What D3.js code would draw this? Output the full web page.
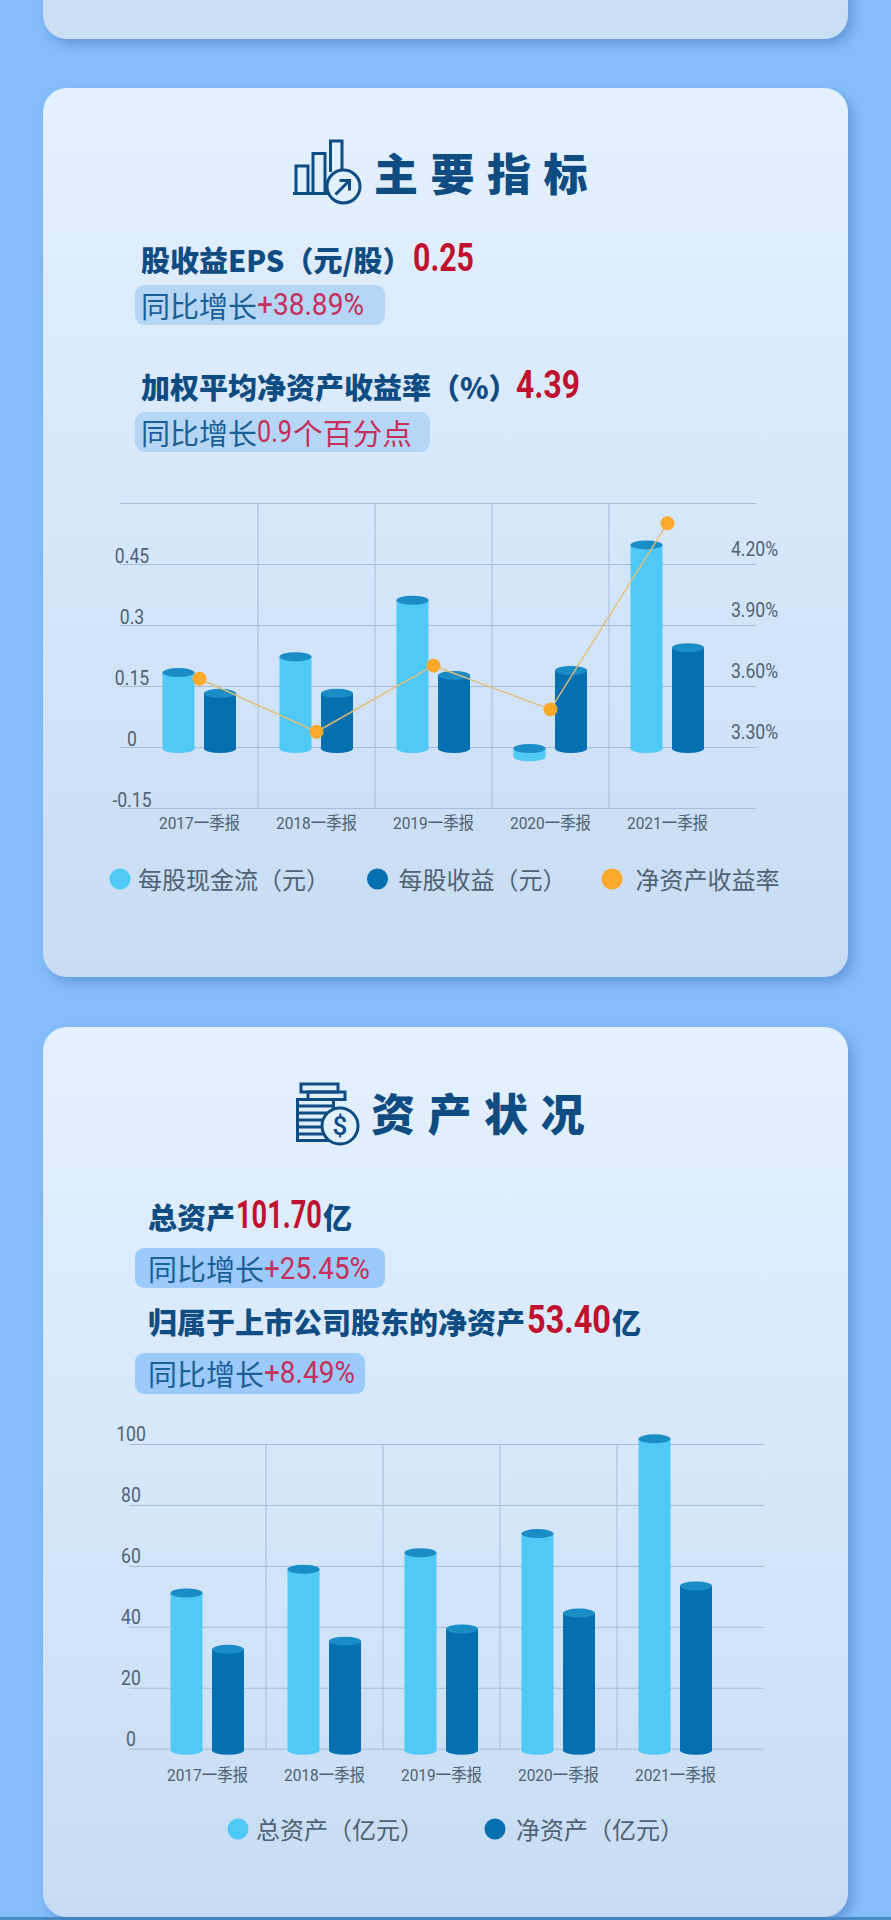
<!DOCTYPE html>
<html lang="zh">
<head>
<meta charset="utf-8">
<title>主要指标 资产状况</title>
<script src="https://d3js.org/d3.v7.min.js"></script>
<style>
  html, body { margin: 0; padding: 0; background: #85bdfb; }
  svg { display: block; }
</style>
</head>
<body>
<script>
// data
var quarters = ["2017一季报", "2018一季报", "2019一季报", "2020一季报", "2021一季报"];

var cashPerShare = [0.183, 0.222, 0.361, -0.024, 0.497];
var epsPerShare = [0.132, 0.132, 0.176, 0.188, 0.244];
var roe = [3.636, 3.375, 3.70, 3.485, 4.40];
var leftTicks = [-0.15, 0, 0.15, 0.3, 0.45];
var leftTickLabels = ["-0.15", "0", "0.15", "0.3", "0.45"];
var rightTicks = [3.3, 3.6, 3.9, 4.2];
var rightTickLabels = ["3.30%", "3.60%", "3.90%", "4.20%"];
var grid1 = [-0.15, 0, 0.15, 0.3, 0.45, 0.6];

var totalAssets = [51.1, 58.9, 64.3, 70.6, 101.7];
var netAssets = [32.6, 35.3, 39.3, 44.5, 53.4];
var assetTicks = [0, 20, 40, 60, 80, 100];

var legend1 = ["每股现金流（元）", "每股收益（元）", "净资产收益率"];
var legend2 = ["总资产（亿元）", "净资产（亿元）"];

var navy = "#0f4c81", red = "#c0112f", softRed = "#c5305c", gray = "#4f6274";
var light = "#4fc9f5", dark = "#0570b0", cap = "#1a8cc6", orange = "#faa92c";
var gridColor = "#a6bdd9";
var cjk = "'Noto Sans CJK SC', sans-serif";
var latin = "Roboto, 'Noto Sans CJK SC', sans-serif";

var svg = d3.select("body").append("svg").attr("width", 891).attr("height", 1920);
var defs = svg.append("defs");

var grad = defs.append("linearGradient").attr("id", "cardFill").attr("x1", 0).attr("x2", 0).attr("y1", 0).attr("y2", 1);
grad.append("stop").attr("offset", "0%").attr("stop-color", "#e4f1fe");
grad.append("stop").attr("offset", "50%").attr("stop-color", "#d6e7fb");
grad.append("stop").attr("offset", "100%").attr("stop-color", "#c7dcf2");

var blur = defs.append("filter").attr("id", "cardShadow").attr("x", "-10%").attr("y", "-10%").attr("width", "120%").attr("height", "120%");
blur.append("feDropShadow").attr("dx", 5).attr("dy", 6).attr("stdDeviation", 6)
  .attr("flood-color", "#3f78bd").attr("flood-opacity", 0.5);

function card(y, h, fill) {
  svg.append("rect").attr("x", 43).attr("y", y).attr("width", 805).attr("height", h)
    .attr("rx", 24).attr("fill", fill || "url(#cardFill)").attr("filter", "url(#cardShadow)");
}

svg.append("rect").attr("y", 1917).attr("width", 891).attr("height", 3).attr("fill", "#4a8cc6");
card(-300, 339, "#cadef4");
card(88, 889);
card(1027, 890);

// text helper, width squeezes the glyphs to the measured run in the picture
function put(str, x, cy, o) {
  var t = svg.append("text").attr("x", x).attr("y", cy).text(str)
    .attr("dominant-baseline", "central")
    .attr("font-family", o.family || cjk)
    .attr("font-size", o.size)
    .attr("font-weight", o.weight || 400)
    .attr("fill", o.fill || navy);
  if (o.width) {
    var f = o.width / t.node().getComputedTextLength();
    t.attr("x", 0).attr("transform", "translate(" + x + ",0) scale(" + f + ",1)");
  }
  return t;
}

function pill(x, y, w, h, fill) {
  svg.append("rect").attr("x", x).attr("y", y).attr("width", w).attr("height", h).attr("rx", 9).attr("fill", fill);
}

// section 1 heading
var ic1 = svg.append("g").attr("fill", "none").attr("stroke", navy).attr("stroke-width", 3);
ic1.append("path").attr("d", "M293 193.5H330M296 193V166H308V193M313 193V153.5H325V193M330.5 172V141H342V170");
ic1.append("circle").attr("cx", 343.5).attr("cy", 186.5).attr("r", 16.5);
ic1.append("path").attr("d", "M335.5 194.5L349 181M339.5 180.5H349.5V190.5");
"主要指标".split("").forEach(function(c, i) {
  put(c, 374 + i * 56.5, 172, {size: 44, weight: 900});
});

put("股收益EPS（元/股）", 141, 259, {size: 29, weight: 900});
put("0.25", 413, 258, {size: 39, weight: 700, fill: red, family: latin, width: 61});
pill(135, 285, 250, 40, "#b6d6f5");
put("同比增长", 141, 305, {size: 29, fill: "#1a5f95"});
put("+38.89%", 257, 305, {size: 31, fill: softRed, family: latin, width: 107});

put("加权平均净资产收益率（%）", 141, 386, {size: 29, weight: 900});
put("4.39", 516, 385, {size: 39, weight: 700, fill: red, family: latin, width: 64});
pill(135, 412, 295, 40, "#b6d6f5");
put("同比增长", 141, 432, {size: 29, fill: "#1a5f95"});
put("0.9", 257, 432, {size: 31, fill: softRed, family: latin, width: 35});
put("个百分点", 293, 432, {size: 29, fill: softRed, width: 119});

// section 2 heading
var ic2 = svg.append("g").attr("fill", "none").attr("stroke", navy).attr("stroke-width", 3);
ic2.append("rect").attr("x", 301).attr("y", 1084).attr("width", 37).attr("height", 8);
ic2.append("rect").attr("x", 308).attr("y", 1092).attr("width", 37).attr("height", 7.5);
ic2.append("rect").attr("x", 297.5).attr("y", 1099.5).attr("width", 36).attr("height", 41);
ic2.append("path").attr("d", "M297.5 1106H333M297.5 1113H333M297.5 1120H333M297.5 1127H333M297.5 1134H333");
ic2.append("circle").attr("cx", 340).attr("cy", 1126).attr("r", 18).attr("fill", "#e3f0fe");
put("$", 340, 1126, {size: 26, family: latin, weight: 500}).attr("text-anchor", "middle");
"资产状况".split("").forEach(function(c, i) {
  put(c, 371 + i * 56.5, 1112, {size: 44, weight: 900});
});

put("总资产", 148, 1216, {size: 29, weight: 900});
put("101.70", 236, 1215, {size: 39, weight: 700, fill: red, family: latin, width: 86});
put("亿", 323, 1216, {size: 29, weight: 900});
pill(135, 1248, 250, 40, "#9ccafa");
put("同比增长", 148, 1268, {size: 29, fill: "#1a5f95"});
put("+25.45%", 264, 1268, {size: 31, fill: softRed, family: latin, width: 106});

put("归属于上市公司股东的净资产", 148, 1321, {size: 29, weight: 900});
put("53.40", 527, 1320, {size: 39, weight: 700, fill: red, family: latin, width: 84});
put("亿", 612, 1321, {size: 29, weight: 900});
pill(135, 1353, 230, 41, "#9ccafa");
put("同比增长", 148, 1373, {size: 29, fill: "#1a5f95"});
put("+8.49%", 264, 1373, {size: 31, fill: softRed, family: latin, width: 91});

// one cylinder, the cap sits on the value and the floor on zero
function cylinder(g, left, w, yTop, yBase, fill) {
  var rx = w / 2, ry = 4.5;
  g.append("path")
    .attr("d", "M" + left + " " + yTop + "V" + yBase + "A" + rx + " " + ry + " 0 0 0 " + (left + w) + " " + yBase + "V" + yTop + "Z")
    .attr("fill", fill);
  g.append("ellipse").attr("cx", left + rx).attr("cy", yTop).attr("rx", rx).attr("ry", ry).attr("fill", cap);
}

// digits in the picture are tall and narrow, so squeeze what the axis wrote
function squeeze(sel, factor) {
  sel.each(function() {
    this.setAttribute("textLength", this.getComputedTextLength() * factor);
    this.setAttribute("lengthAdjust", "spacingAndGlyphs");
  });
}

function drawChart(c) {
  var x = d3.scaleBand().domain(quarters).range([c.bandLeft, c.bandLeft + 585]);
  var y = d3.scaleLinear().domain(c.domain).range(c.yRange);
  var g = svg.append("g");

  // gridlines
  g.append("g").attr("transform", "translate(" + c.gridLeft + ",0)")
    .call(d3.axisLeft(y).tickValues(c.grid).tickSize(-c.gridWidth).tickFormat(""))
    .call(function(a) {
      a.select(".domain").remove();
      a.selectAll("line").attr("stroke", gridColor).attr("stroke-width", 1);
    });
  g.selectAll("line.vert").data(quarters.slice(1)).enter().append("line")
    .attr("class", "vert")
    .attr("x1", function(d) { return x(d); }).attr("x2", function(d) { return x(d); })
    .attr("y1", c.yRange[1]).attr("y2", c.yRange[0])
    .attr("stroke", gridColor).attr("stroke-width", 1);

  // left labels sit above their gridline
  g.append("g").attr("transform", "translate(" + c.labelX + ",0)")
    .call(d3.axisLeft(y).tickValues(c.ticks).tickSize(0).tickFormat(function(d, i) { return c.tickLabels[i]; }))
    .call(function(a) {
      a.select(".domain").remove();
      a.selectAll("text").attr("x", 0).attr("y", c.labelUp).attr("text-anchor", "middle")
        .attr("font-family", latin).attr("font-size", 20).attr("fill", gray).call(squeeze, 0.88);
    });

  // category labels
  g.append("g").attr("transform", "translate(0," + c.catY + ")")
    .call(d3.axisBottom(x).tickSize(0))
    .call(function(a) {
      a.select(".domain").remove();
      a.selectAll("text").attr("y", 0).attr("dy", ".35em")
        .attr("font-family", latin).attr("font-size", 17).attr("fill", gray)
        .attr("textLength", 81).attr("lengthAdjust", "spacingAndGlyphs");
    });

  // bars
  var floor = y(0) + 1.5;
  quarters.forEach(function(q, i) {
    var mid = x(q) + x.bandwidth() / 2;
    var a = c.first[i], b = c.second[i];
    if (a < 0) cylinder(g, mid - 37, 32, floor, y(a), light);
    else cylinder(g, mid - 37, 32, y(a), floor, light);
    cylinder(g, mid + 4.5, 32, y(b), floor, dark);
  });

  return {x: x, y: y, g: g};
}

var top1 = drawChart({
  bandLeft: 141, gridLeft: 120, gridWidth: 636, labelX: 132, catY: 823, labelUp: -8,
  domain: [-0.15, 0.6], yRange: [808, 503],
  grid: grid1, ticks: leftTicks, tickLabels: leftTickLabels,
  first: cashPerShare, second: epsPerShare
});

// second value axis and the line on it
var yRoe = d3.scaleLinear().domain([3.0, 4.5]).range([808, 503]);
top1.g.append("g").attr("transform", "translate(754.5,0)")
  .call(d3.axisRight(yRoe).tickValues(rightTicks).tickSize(0).tickFormat(function(d, i) { return rightTickLabels[i]; }))
  .call(function(a) {
    a.select(".domain").remove();
    a.selectAll("text").attr("x", 0).attr("y", -15).attr("text-anchor", "middle")
      .attr("font-family", latin).attr("font-size", 20).attr("fill", gray).call(squeeze, 0.88);
  });

var roeLine = d3.line()
  .x(function(d, i) { return top1.x(quarters[i]) + top1.x.bandwidth() / 2; })
  .y(function(d) { return yRoe(d); });
top1.g.append("path").attr("d", roeLine(roe)).attr("fill", "none")
  .attr("stroke", "#e6bd76").attr("stroke-opacity", 0.9).attr("stroke-width", 1.6);
top1.g.selectAll("circle.roe").data(roe).enter().append("circle")
  .attr("class", "roe")
  .attr("cx", function(d, i) { return top1.x(quarters[i]) + top1.x.bandwidth() / 2; })
  .attr("cy", function(d) { return yRoe(d); })
  .attr("r", 7).attr("fill", orange);

drawChart({
  bandLeft: 149, gridLeft: 129, gridWidth: 635, labelX: 131, catY: 1775, labelUp: -10,
  domain: [0, 100], yRange: [1748.7, 1444],
  grid: assetTicks, ticks: assetTicks, tickLabels: assetTicks.map(String),
  first: totalAssets, second: netAssets
});

// legends
function legendItem(cx, cy, fill, str, tx) {
  svg.append("circle").attr("cx", cx).attr("cy", cy).attr("r", 10.5).attr("fill", fill);
  put(str, tx, cy - 1, {size: 24, fill: gray});
}
legendItem(120, 879, light, legend1[0], 138);
legendItem(377.5, 879, dark, legend1[1], 398.5);
legendItem(612, 879, orange, legend1[2], 635.5);
legendItem(238, 1829, light, legend2[0], 256);
legendItem(495, 1829, dark, legend2[1], 516);
</script>
</body>
</html>
